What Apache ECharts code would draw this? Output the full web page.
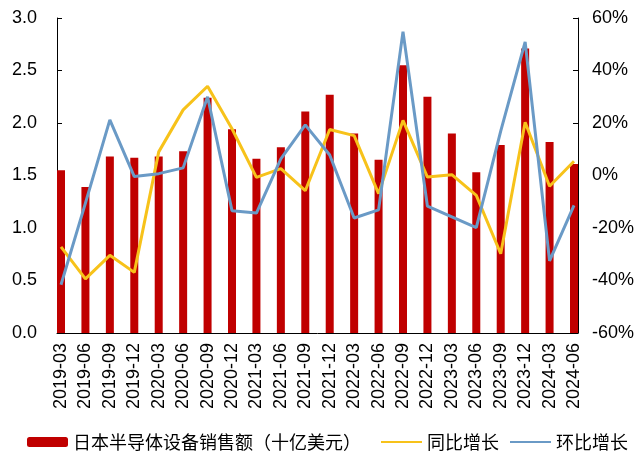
<!DOCTYPE html>
<html>
<head>
<meta charset="utf-8">
<script src="https://cdn.jsdelivr.net/npm/echarts@6/dist/echarts.min.js"></script>
<style>
    html, body {margin: 0; padding: 0; background: #fff;}
    #main {width: 641px; height: 459px;}
</style>
</head>
<body>
<div id="main"></div>
<script>
    var quarters = ['2019-03', '2019-06', '2019-09', '2019-12', '2020-03', '2020-06', '2020-09', '2020-12',
        '2021-03', '2021-06', '2021-09', '2021-12', '2022-03', '2022-06', '2022-09', '2022-12',
        '2023-03', '2023-06', '2023-09', '2023-12', '2024-03', '2024-06'];
    // 十亿美元
    var sales = [1.55, 1.39, 1.68, 1.67, 1.68, 1.73, 2.24, 1.94, 1.66, 1.77, 2.11, 2.27,
        1.90, 1.65, 2.55, 2.25, 1.90, 1.53, 1.79, 2.71, 1.82, 1.61];
    // %
    var yoy = [-27.2, -39.4, -30.4, -36.9, 9.0, 25.0, 34.0, 17.8, -0.7, 2.6, -5.8, 17.5,
        15.2, -6.9, 21.0, -0.6, 0.3, -7.6, -29.8, 20.3, -4.1, 5.4];
    var qoq = [-41.6, -10.5, 21.2, -0.4, 0.7, 2.9, 30.0, -13.4, -14.3, 6.3, 19.3, 7.8,
        -16.2, -13.1, 54.8, -11.7, -15.8, -19.9, 16.9, 50.9, -32.5, -11.4];

    var font = '"Liberation Sans", Arial, "Noto Sans CJK SC", sans-serif';
    var cjk = '"Noto Sans CJK SC", sans-serif';
    var YELLOW = '#F7C21A', BLUE = '#6A9AC6', RED = '#C00000';

    function legendAt(left, name, lineItem) {
        var item = {name: name};
        if (lineItem) {
            item.itemStyle = {opacity: 0};
        }
        return {
            left: left, top: 428, itemWidth: 41, itemHeight: 10, itemGap: 0,
            textStyle: {fontSize: 18, color: '#000', fontFamily: cjk},
            data: [item]
        };
    }

    var charts = echarts.init(document.getElementById('main'));
    charts.setOption({
        animation: false,
        textStyle: {fontFamily: font},
        grid: [
            {left: 61, right: 67, top: 18, bottom: 126},
            {left: 57, right: 63, top: 18, bottom: 126}
        ],
        legend: [
            legendAt(22, '日本半导体设备销售额（十亿美元）', false),
            legendAt(375, '同比增长', true),
            legendAt(504, '环比增长', true)
        ],
        xAxis: [
            {
                type: 'category', data: quarters, gridIndex: 0, boundaryGap: false,
                axisLine: {show: false}, axisTick: {show: false},
                axisLabel: {rotate: 90, fontSize: 18, color: '#000', margin: 10, interval: 0}
            },
            {
                type: 'value', gridIndex: 1, min: 0, max: 1,
                axisLine: {show: true, lineStyle: {color: '#000', width: 1}},
                axisTick: {show: false}, axisLabel: {show: false}, splitLine: {show: false}
            }
        ],
        yAxis: [
            {
                type: 'value', gridIndex: 0, min: 0, max: 3, interval: 0.5, offset: 4,
                axisLine: {show: true, lineStyle: {color: '#000'}},
                axisTick: {show: true, inside: true, length: 5, lineStyle: {color: '#000'}},
                axisLabel: {fontSize: 18, color: '#000', margin: 20, formatter: function (v) { return v.toFixed(1); }},
                splitLine: {show: false}
            },
            {
                type: 'value', gridIndex: 0, min: -60, max: 60, interval: 20, offset: 4, position: 'right',
                axisLine: {show: true, lineStyle: {color: '#000'}},
                axisTick: {show: true, inside: true, length: 5, lineStyle: {color: '#000'}},
                axisLabel: {fontSize: 18, color: '#000', margin: 14, formatter: '{value}%'},
                splitLine: {show: false}
            },
            {
                type: 'value', gridIndex: 1, min: 0, max: 1, show: false
            }
        ],
        series: [
            {
                name: '日本半导体设备销售额（十亿美元）', type: 'bar', xAxisIndex: 0, yAxisIndex: 0,
                barWidth: 8, clip: false,
                itemStyle: {color: RED},
                data: sales
            },
            {
                name: '同比增长', type: 'line', xAxisIndex: 0, yAxisIndex: 1,
                symbol: 'none', clip: false,
                lineStyle: {color: YELLOW, width: 3},
                itemStyle: {color: YELLOW},
                data: yoy
            },
            {
                name: '环比增长', type: 'line', xAxisIndex: 0, yAxisIndex: 1,
                symbol: 'none', clip: false,
                lineStyle: {color: BLUE, width: 3},
                itemStyle: {color: BLUE},
                data: qoq
            }
        ]
    });
</script>
</body>
</html>
